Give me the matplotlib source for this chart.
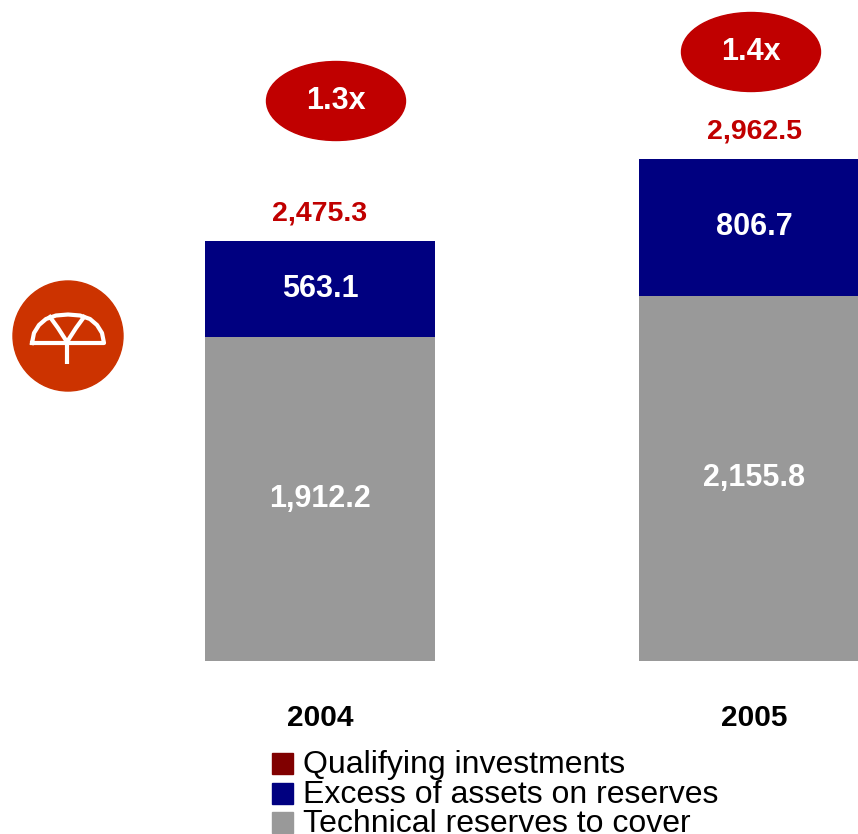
import matplotlib.pyplot as plt
from matplotlib.patches import Ellipse, Circle, Rectangle

plt.rcParams['font.family'] = ['Liberation Sans', 'DejaVu Sans']

years = ["2004", "2005"]
technical = [1912.2, 2155.8]
excess = [563.1, 806.7]
qualifying = [2475.3, 2962.5]
ratios = ["1.3x", "1.4x"]
legend_labels = ["Qualifying investments", "Excess of assets on reserves",
                 "Technical reserves to cover"]

gray = "#999999"
navy = "#000080"
red = "#C00000"
darkred = "#800000"

fig = plt.figure(figsize=(8.58, 8.34), dpi=100)

# main bar axes
ax = fig.add_axes([0, 173/834, 1, 661/834])
ax.set_xlim(-320/434, 538/434)
ax.set_ylim(0, 3900)
x = [0, 1]
w = 230/434
ax.bar(x, technical, width=w, color=gray)
ax.bar(x, excess, width=w, bottom=technical, color=navy)
for i in range(len(x)):
    ax.text(x[i], technical[i]/2, format(technical[i], ',.1f'), ha='center', va='center',
            color='white', fontsize=22, fontweight='bold')
    ax.text(x[i], technical[i] + excess[i]/2, format(excess[i], ',.1f'), ha='center', va='center',
            color='white', fontsize=22, fontweight='bold')
    ax.annotate(format(qualifying[i], ',.1f'), (x[i], qualifying[i]), xytext=(0, 20),
                textcoords='offset points', ha='center', va='center',
                color=red, fontsize=20.5, fontweight='bold')
ax.set_xticks(x, years)
ax.tick_params(axis='x', length=0, pad=31, labelsize=21.5)
for lab in ax.get_xticklabels():
    lab.set_fontweight('bold')
ax.set_yticks([])
for s in ax.spines.values():
    s.set_visible(False)
ax.patch.set_alpha(0)

# overlay in pixel coordinates for the decorations
ov = fig.add_axes([0, 0, 1, 1])
ov.set_xlim(0, 858)
ov.set_ylim(834, 0)
ov.axis('off')
ov.patch.set_alpha(0)

ell_pos = [(336, 101), (751, 52)]
for (ex, ey), r in zip(ell_pos, ratios):
    ov.add_patch(Ellipse((ex, ey), 139, 79, color=red))
    ov.text(ex, ey, r, ha='center', va='center', color='white', fontsize=22, fontweight='bold')

# logo
ov.add_patch(Circle((68, 336), 55, color="#CC3300"))
lw = 3.0
ov.plot([32, 34, 39, 46, 56, 68, 80, 90, 97, 102, 104, 32],
        [343, 333, 325, 319, 315.5, 314.5, 315.5, 319, 325, 333, 343, 343],
        color='white', lw=lw, solid_joinstyle='round')
ov.plot([50, 58, 67, 76, 84], [317, 328, 342, 328, 317], color='white', lw=lw,
        solid_joinstyle='round')
ov.plot([67, 67], [342, 364], color='white', lw=lw, solid_capstyle='butt')

# legend
leg_colors = [darkred, navy, gray]
leg_y = [773, 803, 832]
for c, lab, yb in zip(leg_colors, legend_labels, leg_y):
    ov.add_patch(Rectangle((272, yb - 20), 21, 21, color=c))
    ov.text(303, yb, lab, ha='left', va='baseline', fontsize=23, color='black')

fig.savefig("out.png", dpi=100)
